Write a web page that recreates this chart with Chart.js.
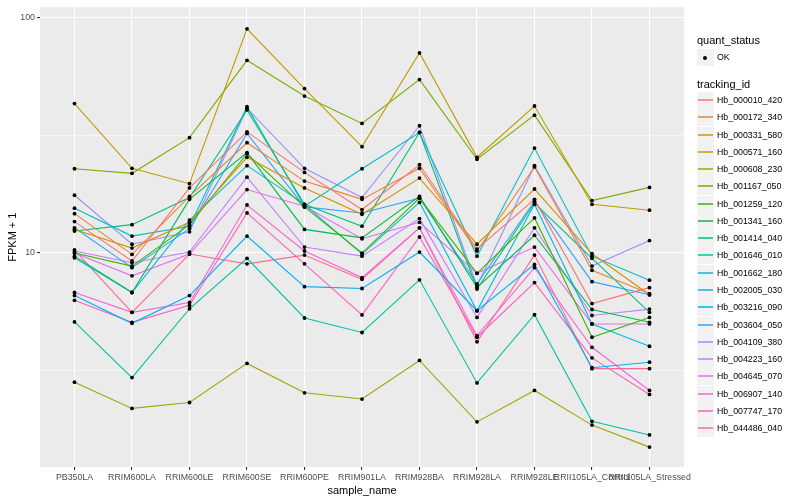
<!DOCTYPE html>
<html><head><meta charset="utf-8">
<script src="https://cdn.jsdelivr.net/npm/chart.js@4"></script>
<style>
body{margin:0;background:#fff;}
#wrap{position:relative;width:800px;height:500px;font-family:"Liberation Sans",Arial,Helvetica,sans-serif;}
canvas{position:absolute;left:0;top:0;}
.lt{position:absolute;font-size:11px;color:#000;line-height:13px;white-space:nowrap;}
.key{position:absolute;width:17px;height:17px;background:#F2F2F2;}
.lx{position:absolute;font-size:8.8px;color:#000;line-height:11px;white-space:nowrap;}
</style></head>
<body><div id="wrap"><canvas id="c" width="800" height="500"></canvas><div id="legend"></div></div>
<script>
const categories = ["PB350LA","RRIM600LA","RRIM600LE","RRIM600SE","RRIM600PE","RRIM901LA","RRIM928BA","RRIM928LA","RRIM928LE","RRII105LA_Control","RRII105LA_Stressed"];
const yMajorTicks = [10, 100];
const yMinorTicks = [3.1623, 31.623];

const s000010 = [13.6, 9.25, 18.9, 32.7, 22.0, 15.3, 23.7, 10.4, 16.9, 6.1, 7.13];
const s000172 = [14.7, 9.87, 17.4, 29.4, 20.2, 16.9, 22.9, 10.2, 23.2, 8.45, 6.73];
const s000331 = [12.6, 10.5, 13.5, 25.5, 18.9, 14.6, 20.8, 10.9, 18.7, 9.93, 6.65];
const s000571 = [43.1, 22.9, 19.7, 89.5, 49.9, 28.3, 70.7, 25.5, 42.1, 16.1, 15.2];
const s000608 = [2.83, 2.19, 2.32, 3.40, 2.55, 2.40, 3.50, 1.92, 2.61, 1.86, 1.50];
const s001167 = [22.8, 21.8, 30.9, 65.8, 46.4, 35.5, 54.5, 25.0, 38.5, 16.7, 19.0];
const s001259 = [10.0, 8.8, 13.2, 26.4, 15.7, 10.0, 17.1, 8.2, 14.1, 4.39, 5.33];
const s001341 = [9.7, 6.8, 16.9, 26.7, 12.6, 11.6, 17.4, 7.14, 11.9, 5.76, 5.08];
const s001414 = [12.4, 13.2, 17.2, 40.5, 16.1, 13.0, 32.5, 7.03, 16.3, 9.5, 5.6];
const s001646 = [5.1, 2.96, 5.8, 9.5, 5.3, 4.6, 7.7, 2.81, 5.47, 1.93, 1.69];
const s001662 = [15.5, 11.8, 13.0, 41.8, 15.8, 22.8, 32.5, 9.7, 27.9, 9.7, 7.67];
const s002005 = [9.55, 6.8, 13.8, 23.5, 16.1, 9.9, 16.4, 5.69, 16.1, 5.0, 4.02];
const s003216 = [6.6, 5.03, 6.6, 11.8, 7.2, 7.07, 10.1, 5.69, 8.95, 3.26, 3.44];
const s003604 = [12.8, 8.67, 12.7, 32.2, 15.7, 14.8, 17.1, 7.4, 16.6, 7.56, 6.65];
const s004109 = [17.6, 10.9, 12.3, 41.1, 22.9, 17.2, 34.7, 7.26, 23.5, 8.8, 11.3];
const s004223 = [10.2, 9.1, 10.1, 21.0, 10.6, 9.7, 14.0, 5.33, 12.8, 5.43, 5.78];
const s004645 = [10.0, 8.0, 9.9, 18.6, 15.8, 11.5, 13.5, 8.2, 10.6, 5.0, 5.0];
const s006907 = [6.8, 5.6, 6.17, 16.0, 10.2, 7.87, 12.8, 4.46, 8.67, 3.98, 2.61];
const s007747 = [6.3, 5.08, 6.0, 14.8, 9.0, 5.46, 11.7, 4.39, 7.49, 3.59, 2.51];
const s044486 = [10.3, 5.6, 9.9, 9.0, 9.8, 7.74, 12.8, 4.2, 9.8, 3.23, 3.23];

const seriesNames = ["Hb_000010_420","Hb_000172_340","Hb_000331_580","Hb_000571_160","Hb_000608_230","Hb_001167_050","Hb_001259_120","Hb_001341_160","Hb_001414_040","Hb_001646_010","Hb_001662_180","Hb_002005_030","Hb_003216_090","Hb_003604_050","Hb_004109_380","Hb_004223_160","Hb_004645_070","Hb_006907_140","Hb_007747_170","Hb_044486_040"];
const seriesValues = [s000010,s000172,s000331,s000571,s000608,s001167,s001259,s001341,s001414,s001646,s001662,s002005,s003216,s003604,s004109,s004223,s004645,s006907,s007747,s044486];
const seriesColors = ["#F8766D","#EA8331","#D89000","#C09B00","#A3A500","#7CAE00","#39B600","#00BB4E","#00BF7D","#00C1A3","#00BFC4","#00BAE0","#00B0F6","#35A2FF","#9590FF","#C77CFF","#E76BF3","#FA62DB","#FF62BC","#FF6C91"];

const FONT = '"Liberation Sans", Arial, Helvetica, sans-serif';

const panelBg = {
  id:'panelBg',
  beforeDraw(chart){
    const {ctx, chartArea:a} = chart;
    ctx.save(); ctx.fillStyle='#EBEBEB';
    ctx.fillRect(a.left, a.top, a.right-a.left, a.bottom-a.top);
    ctx.restore();
  }
};
const pointsOnTop = {
  id:'pointsOnTop',
  afterDatasetsDraw(chart){
    const ctx = chart.ctx; ctx.save(); ctx.fillStyle='#000';
    chart.data.datasets.forEach((d,i)=>{
      chart.getDatasetMeta(i).data.forEach(p=>{
        ctx.beginPath(); ctx.arc(p.x,p.y,1.9,0,Math.PI*2); ctx.fill();
      });
    });
    ctx.restore();
  }
};

const datasets = seriesValues.map((vals,k)=>({
  label: seriesNames[k],
  data: vals.map((v,i)=>({x:i,y:v})),
  borderColor: seriesColors[k],
  backgroundColor: seriesColors[k],
  borderWidth: 1.1,
  pointRadius: 0,
  tension: 0,
  fill: false
}));

new Chart(document.getElementById('c'), {
  type:'line',
  data:{datasets},
  plugins:[panelBg, pointsOnTop],
  options:{
    responsive:false, animation:false, devicePixelRatio:1,
    layout:{padding:{left:0, top:5, right:116, bottom:0}},
    plugins:{legend:{display:false}, tooltip:{enabled:false}},
    scales:{
      x:{
        type:'linear', min:-0.6, max:categories.length-1+0.6,
        afterBuildTicks(axis){ axis.ticks = categories.map((c,i)=>({value:i})); },
        afterFit(scale){ scale.height = 33; },
        border:{display:false},
        grid:{color:'#FFFFFF', lineWidth:1.1, tickColor:'#333333', tickLength:3, drawOnChartArea:true},
        ticks:{autoSkip:false, maxRotation:0, minRotation:0, padding:2, color:'#4D4D4D',
          font:{family:FONT, size:8.8},
          callback:(v)=>categories[Math.round(v)]},
        title:{display:true, text:'sample_name', color:'#000', font:{family:FONT, size:11}, padding:{top:0,bottom:2}}
      },
      y:{
        type:'logarithmic', min:1.235, max:110.5,
        afterBuildTicks(axis){ axis.ticks = yMinorTicks.concat(yMajorTicks).sort((a,b)=>a-b).map(v=>({value:v})); },
        afterFit(scale){ scale.width = 40; },
        border:{display:false},
        grid:{
          color:'#FFFFFF',
          lineWidth:(c)=> (c.tick && yMajorTicks.includes(c.tick.value)) ? 1.1 : 0.55,
          tickColor:(c)=> (c.tick && yMajorTicks.includes(c.tick.value)) ? '#333333' : 'rgba(0,0,0,0)',
          tickLength:3
        },
        ticks:{padding:2, color:'#4D4D4D', font:{family:FONT, size:8.8},
          callback:(v)=> yMajorTicks.includes(v) ? String(v) : ''},
        title:{display:true, text:'FPKM + 1', color:'#000', font:{family:FONT, size:11}, padding:{top:6,bottom:0}}
      }
    }
  }
});

// legend (HTML text)
const lg = document.getElementById('legend');
function add(html){ lg.insertAdjacentHTML('beforeend', html); }
add('<div class="lt" style="left:697px;top:34px">quant_status</div>');
add('<div class="key" style="left:697px;top:49px"></div>');
add('<div style="position:absolute;left:703px;top:56px;width:4px;height:4px;border-radius:2px;background:#000"></div>');
add('<div class="lx" style="left:717px;top:52px">OK</div>');
add('<div class="lt" style="left:697px;top:78px">tracking_id</div>');
seriesNames.forEach((n,i)=>{
  const cy = Math.round(100 + i*17.27);
  add('<div class="key" style="left:697px;top:'+(cy-8)+'px"></div>');
  add('<div style="position:absolute;left:698px;top:'+(cy-1)+'px;width:15px;height:2px;opacity:0.75;background:'+seriesColors[i]+'"></div>');
  add('<div class="lx" style="left:717px;top:'+(cy-5)+'px">'+n+'</div>');
});
</script></body></html>
